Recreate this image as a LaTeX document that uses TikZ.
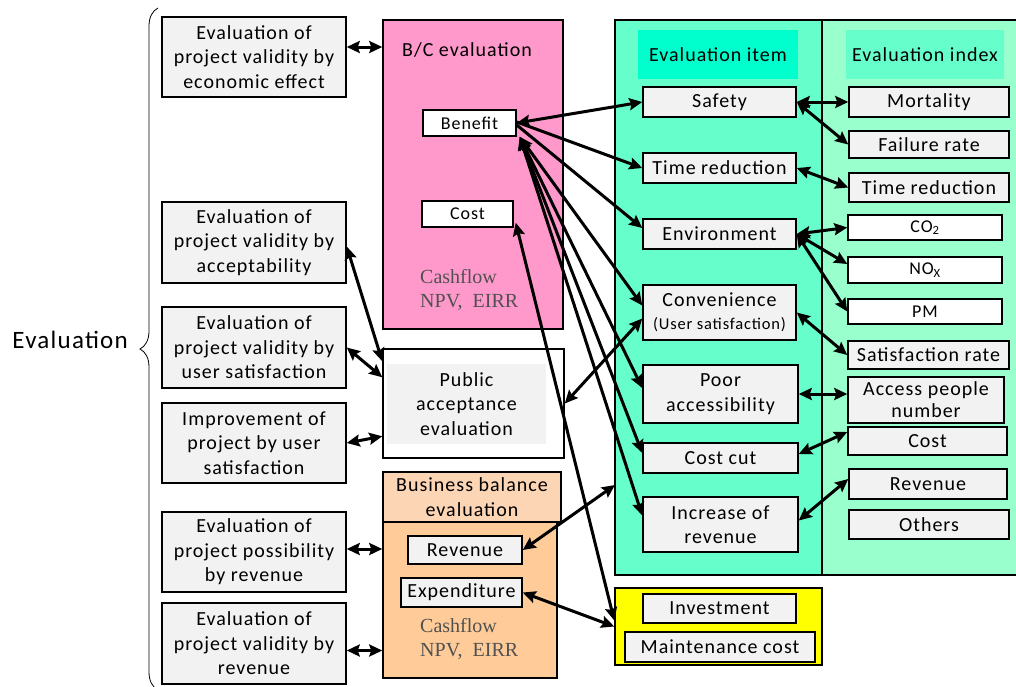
\documentclass[tikz,border=0pt]{standalone}
\usepackage{fontspec}
\setmainfont{Carlito}[LetterSpace=5]
\newfontfamily\cashfont{Liberation Serif}
\usetikzlibrary{arrows.meta,decorations.pathreplacing,calc}
\definecolor{grayf}{HTML}{F2F2F2}
\definecolor{pinkbc}{HTML}{FF99CC}
\definecolor{tealI}{HTML}{66FFCC}
\definecolor{tealX}{HTML}{99FFCC}
\definecolor{headI}{HTML}{00FFCC}
\definecolor{headX}{HTML}{66FFCC}
\definecolor{bbtitle}{HTML}{FCD5B4}
\definecolor{bbbody}{HTML}{FFCC99}
\definecolor{yel}{HTML}{FFFF00}
\definecolor{cashgray}{HTML}{505050}
\newcommand\fsz[2]{\fontsize{#1}{#2}\selectfont}
\begin{document}
\begin{tikzpicture}[x=1pt,y=-1pt,
  gbox/.style={draw=black, line width=1.5pt, fill=grayf, inner sep=0pt, align=center, font=\fsz{20}{24.5}},
  wbox/.style={gbox, fill=white},
  area/.style={draw=black, line width=1.5pt, inner sep=0pt},
  bi/.style={line width=3pt, {Stealth[length=13pt,width=12pt,inset=2pt]}-{Stealth[length=13pt,width=12pt,inset=2pt]}},
  one/.style={line width=3pt, -{Stealth[length=13pt,width=12pt,inset=2pt]}},
  cash/.style={font=\cashfont\fsz{20}{24.5}, text=cashgray, align=left, anchor=west, inner sep=0pt}
]
\useasboundingbox (0,0) rectangle (1016,686);

% brace and main label
\coordinate (brt) at (158,8);
\coordinate (brb) at (158,690);
\draw[decorate, decoration={brace, amplitude=18pt, aspect=0.5}, line width=0.8pt] (brb) -- (brt);
\node[anchor=east, inner sep=0pt, font=\fsz{25}{30}] (ev) at (128,340) {Evaluation};

% left boxes
\node[gbox, minimum width=184pt, minimum height=80pt] (b1) at (254,57) {Evaluation of\\project validity by\\economic effect};
\node[gbox, minimum width=184pt, minimum height=81pt] (b2) at (254,242.5) {Evaluation of\\project validity by\\acceptability};
\node[gbox, minimum width=184pt, minimum height=81pt] (b3) at (254,347.5) {Evaluation of\\project validity by\\user satisfaction};
\node[gbox, minimum width=184pt, minimum height=80pt] (b4) at (254,443) {Improvement of\\project by user\\satisfaction};
\node[gbox, minimum width=184pt, minimum height=80pt] (b5) at (254,552) {Evaluation of\\project possibility\\by revenue};
\node[gbox, minimum width=184pt, minimum height=81pt] (b6) at (254,643.5) {Evaluation of\\project validity by\\revenue};

% B/C evaluation
\node[area, fill=pinkbc, minimum width=180pt, minimum height=309pt] (bc) at (473,174.5) {};
\node[inner sep=0pt, font=\fsz{20}{24.5}] (bct) at (467,50) {B/C evaluation};
\node[wbox, font=\fsz{18}{22}, minimum width=93pt, minimum height=26pt] (ben) at (469.5,123) {Benefit};
\node[wbox, font=\fsz{18}{22}, minimum width=91pt, minimum height=26pt] (cost) at (467.5,214) {Cost};
\node[cash] (cf1) at (420,290) {Cashflow\\NPV,\ \ EIRR};

% public acceptance
\node[area, fill=white, minimum width=181pt, minimum height=109pt] (pub) at (473.5,403.5) {};
\node[fill=grayf, inner sep=0pt, minimum width=159pt, minimum height=80pt, align=center, font=\fsz{20}{24.5}] (pubin) at (466.5,404) {Public\\acceptance\\evaluation};

% business balance
\node[area, fill=bbtitle, minimum width=178pt, minimum height=50pt, align=center, font=\fsz{20}{24.5}] (bbt) at (472,497) {Business balance\\evaluation};
\node[area, fill=bbbody, minimum width=174pt, minimum height=156pt] (bbb) at (470,600) {};
\node[gbox, minimum width=114pt, minimum height=28pt] (revB) at (465,550) {Revenue};
\node[gbox, minimum width=121pt, minimum height=29pt] (expd) at (461.5,592.5) {Expenditure};
\node[cash] (cf2) at (420,639) {Cashflow\\NPV,\ \ EIRR};

% teal columns
\node[area, fill=tealI, minimum width=207pt, minimum height=555pt] (colI) at (718.5,297.5) {};
\node[area, fill=tealX, minimum width=196pt, minimum height=555pt] (colX) at (920,297.5) {};
\node[fill=headI, inner sep=0pt, minimum width=160pt, minimum height=49pt, font=\fsz{20}{24.5}] (hI) at (718,54.5) {Evaluation item};
\node[fill=headX, inner sep=0pt, minimum width=158pt, minimum height=49pt, font=\fsz{20}{24.5}] (hX) at (925,54.5) {Evaluation index};

% evaluation items
\node[gbox, minimum width=153pt, minimum height=30pt] (safe) at (719.5,102) {Safety};
\node[gbox, minimum width=153pt, minimum height=30pt] (timeI) at (719.5,168) {Time reduction};
\node[gbox, minimum width=153pt, minimum height=30pt] (env) at (719.5,234) {Environment};
\node[gbox, minimum width=153pt, minimum height=55pt] (conv) at (719.5,312.5) {Convenience\\[-2pt]{\fsz{16.5}{20}(User satisfaction)}};
\node[gbox, minimum width=155pt, minimum height=58pt] (poor) at (720.5,394) {Poor\\accessibility};
\node[gbox, minimum width=155pt, minimum height=30pt] (ccut) at (720.5,458) {Cost cut};
\node[gbox, minimum width=155pt, minimum height=55pt] (incr) at (720.5,524.5) {Increase of\\revenue};

% evaluation indexes
\node[gbox, minimum width=160pt, minimum height=30pt] (mort) at (929,102) {Mortality};
\node[gbox, minimum width=160pt, minimum height=27pt] (fail) at (929,144.5) {Failure rate};
\node[gbox, minimum width=160pt, minimum height=29pt] (timeX) at (929,187.5) {Time reduction};
\node[wbox, font=\fsz{18}{22}, minimum width=154pt, minimum height=25pt] (co2) at (925,227.5) {CO\textsubscript{2}};
\node[wbox, font=\fsz{18}{22}, minimum width=154pt, minimum height=26pt] (nox) at (925,270) {NO\textsubscript{X}};
\node[wbox, font=\fsz{18}{22}, minimum width=154pt, minimum height=25pt] (pm) at (925,311.5) {PM};
\node[gbox, minimum width=161pt, minimum height=28pt] (sat) at (928.5,355) {Satisfaction rate};
\node[gbox, minimum width=156pt, minimum height=46pt, font=\fsz{20}{22}] (acc) at (926,400) {Access people\\number};
\node[gbox, minimum width=159pt, minimum height=28pt] (costX) at (927.5,441) {Cost};
\node[gbox, minimum width=158pt, minimum height=30pt] (revX) at (928,484) {Revenue};
\node[gbox, minimum width=160pt, minimum height=29pt] (oth) at (929,524.5) {Others};

% yellow box
\node[area, fill=yel, minimum width=207pt, minimum height=77pt] (yb) at (718.5,626.5) {};
\node[gbox, minimum width=153pt, minimum height=29pt] (inv) at (719.5,608.5) {Investment};
\node[gbox, minimum width=190pt, minimum height=30pt] (mnt) at (720,647) {Maintenance cost};

\coordinate (tealin) at (615,485);

% left connectors
\draw[bi] ([yshift=10pt]b1.east) -- ([yshift=10pt]b1.east -| bc.west);
\draw[bi] ([yshift=-4pt]b2.east) -- ([yshift=-13pt]pub.north west);
\draw[bi] (b3.east) -- ([yshift=-29pt]pub.north west);
\draw[bi] (b4.east) -- ([yshift=-88pt]pub.north west);
\draw[bi] ([yshift=3pt]b5.east) -- ([yshift=3pt]b5.east -| bbb.west);
\draw[bi] ([yshift=-7pt]b6.east) -- ([yshift=-7pt]b6.east -| bbb.west);

% benefit connectors
\draw[bi] (ben.east) -- (safe.west);
\draw[one] ([yshift=1pt]ben.east) -- (timeI.west);
\draw[one] ([yshift=-2pt]ben.east) -- ([yshift=6pt]env.west);
\draw[bi] ([xshift=3pt]ben.south east) -- ([yshift=7pt]conv.west);
\draw[bi] ([xshift=3pt]ben.south east) -- ([yshift=6pt]poor.west);
\draw[bi] ([xshift=3pt]ben.south east) -- ([yshift=5pt]ccut.west);
\draw[bi] ([xshift=3pt]ben.south east) -- ([yshift=9pt]incr.west);

% cost and business connectors
\draw[bi] ([xshift=2pt,yshift=5pt]cost.south east) -- ([yshift=6pt]yb.west);
\draw[bi] (expd.east) -- (yb.west);
\draw[bi] (revB.east) -- (tealin);
\draw[bi] (pub.east) -- ([yshift=-6pt]conv.west);

% item to index connectors
\draw[bi] (safe.east) -- (safe.east -| mort.west);
\draw[bi] (safe.east) -- (fail.west);
\draw[bi] (timeI.east) -- (timeX.west);
\draw[bi] (env.east) -- (co2.west);
\draw[bi] (env.east) -- ([yshift=6pt]nox.west);
\draw[bi] (env.east) -- (pm.west);
\draw[bi] (conv.east) -- (sat.west);
\draw[bi] (poor.east) -- (poor.east -| acc.west);
\draw[bi] ([yshift=4pt]ccut.east) -- ([yshift=9pt]costX.west);
\draw[bi] ([yshift=4pt]incr.east) -- ([yshift=5pt]revX.west);
\end{tikzpicture}
\end{document}
